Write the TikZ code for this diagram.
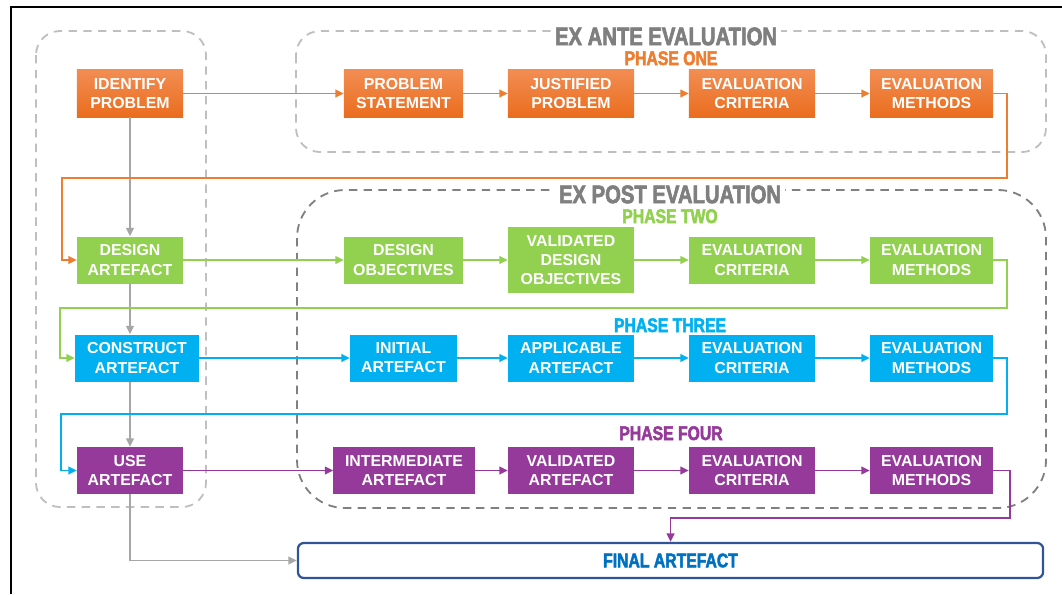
\documentclass[tikz,border=0pt]{standalone}
\usepackage{fontspec}
\setmainfont{Liberation Sans}
\newfontfamily\narrowfont[FakeStretch=0.8,FakeBold=2.5]{Liberation Sans Bold}
\usetikzlibrary{arrows.meta,calc}

\definecolor{onetop}{HTML}{F28D52}
\definecolor{onebot}{HTML}{EA6D1E}
\definecolor{oneline}{HTML}{ED7D31}
\definecolor{twocol}{HTML}{92D050}
\definecolor{threecol}{HTML}{00B0F0}
\definecolor{fourcol}{HTML}{953A9B}
\definecolor{linkgray}{HTML}{A6A6A6}
\definecolor{headgray}{HTML}{7F7F7F}
\definecolor{lightdash}{HTML}{BFBFBF}
\definecolor{darkdash}{HTML}{808080}
\definecolor{finaldraw}{HTML}{2F5597}
\definecolor{finaltext}{HTML}{0070C0}

\tikzstyle{phasebox} = [minimum height=1.175cm, inner sep=0pt, align=center, text=white, font=\fontsize{11.3}{13.6}\selectfont\bfseries]
\tikzstyle{onebox} = [phasebox, top color=onetop, bottom color=onebot]
\tikzstyle{twobox} = [phasebox, fill=twocol]
\tikzstyle{threebox} = [phasebox, fill=threecol]
\tikzstyle{fourbox} = [phasebox, fill=fourcol]
\tikzstyle{link} = [line width=1.3pt, -{Triangle[length=6pt,width=5.5pt]}]
\tikzstyle{zone} = [line width=1.3pt, dash pattern=on 6pt off 4.5pt]
\tikzstyle{heading} = [font=\fontsize{18}{18}\narrowfont, text=headgray, fill=white, inner xsep=3pt, inner ysep=1pt, text height=13pt, text depth=0pt]
\tikzstyle{phase} = [font=\fontsize{14}{14}\narrowfont, inner sep=0pt, text height=10pt, text depth=0pt]

\begin{document}
\begin{tikzpicture}[x=0.025cm, y=-0.025cm]
    \useasboundingbox (0,0) rectangle (1062,594);
    \draw[line width=1.4pt] (11,594) -- (11,7) -- (1062,7);

    \draw[zone, lightdash, rounded corners=0.6cm] (36,31) rectangle (206,507);
    \draw[zone, lightdash, rounded corners=0.6cm] (296,31) rectangle (1046,152);
    \draw[zone, darkdash, rounded corners=1.2cm] (297,190) rectangle (1046,508);

    \node[heading] at (666,36) {EX ANTE EVALUATION};
    \node[heading] at (670,194) {EX POST EVALUATION};
    \node[phase, text=oneline] at (671,58) {PHASE ONE};
    \node[phase, text=twocol] at (670,216) {PHASE TWO};
    \node[phase, text=threecol] at (670,325) {PHASE THREE};
    \node[phase, text=fourcol] at (671,433) {PHASE FOUR};

    \node[onebox, minimum width=2.65cm] (ip) at (130,93.5) {IDENTIFY\\PROBLEM};
    \node[onebox, minimum width=2.975cm] (ps) at (403.5,93.5) {PROBLEM\\STATEMENT};
    \node[onebox, minimum width=3.15cm] (jp) at (571,93.5) {JUSTIFIED\\PROBLEM};
    \node[onebox, minimum width=3.15cm] (ec1) at (752,93.5) {EVALUATION\\CRITERIA};
    \node[onebox, minimum width=3.075cm] (em1) at (931.5,93.5) {EVALUATION\\METHODS};

    \node[twobox, minimum width=2.65cm] (da) at (130,260) {DESIGN\\ARTEFACT};
    \node[twobox, minimum width=2.975cm] (do) at (403.5,260) {DESIGN\\OBJECTIVES};
    \node[twobox, minimum width=3.15cm, minimum height=1.65cm] (vdo) at (571,260) {VALIDATED\\DESIGN\\OBJECTIVES};
    \node[twobox, minimum width=3.15cm] (ec2) at (752,260) {EVALUATION\\CRITERIA};
    \node[twobox, minimum width=3.075cm] (em2) at (931.5,260) {EVALUATION\\METHODS};

    \node[threebox, minimum width=3.1cm] (ca) at (137,358) {CONSTRUCT\\ARTEFACT};
    \node[threebox, minimum width=2.675cm] (ia) at (403.5,358) {INITIAL\\ARTEFACT};
    \node[threebox, minimum width=3.15cm] (aa) at (571,358) {APPLICABLE\\ARTEFACT};
    \node[threebox, minimum width=3.15cm] (ec3) at (752,358) {EVALUATION\\CRITERIA};
    \node[threebox, minimum width=3.075cm] (em3) at (931.5,358) {EVALUATION\\METHODS};

    \node[fourbox, minimum width=2.65cm] (ua) at (130,470.5) {USE\\ARTEFACT};
    \node[fourbox, minimum width=3.525cm] (ma) at (404,470.5) {INTERMEDIATE\\ARTEFACT};
    \node[fourbox, minimum width=3.15cm] (va) at (571,470.5) {VALIDATED\\ARTEFACT};
    \node[fourbox, minimum width=3.15cm] (ec4) at (752,470.5) {EVALUATION\\CRITERIA};
    \node[fourbox, minimum width=3.075cm] (em4) at (931.5,470.5) {EVALUATION\\METHODS};

    \node[draw=finaldraw, line width=1.6pt, rounded corners=0.15cm, minimum width=18.625cm, minimum height=0.875cm, text=finaltext, font=\fontsize{14}{14}\narrowfont] (fin) at (670.5,560.5) {FINAL ARTEFACT};

    \draw[link, linkgray] (ip.south) -- (da.north);
    \draw[link, linkgray] (da.south) -- (da.south |- ca.north);
    \draw[link, linkgray] (ua.north |- ca.south) -- (ua.north);
    \draw[link, linkgray] (ua.south) |- (fin.west);

    \draw[link, oneline] (ip) -- (ps);
    \draw[link, oneline] (ps) -- (jp);
    \draw[link, oneline] (jp) -- (ec1);
    \draw[link, oneline] (ec1) -- (em1);
    \draw[link, oneline] (em1.east) -- ++(14,0) -- ++(0,84.5) -| ($(da.west)+(-15,0)$) -- (da.west);

    \draw[link, twocol] (da) -- (do);
    \draw[link, twocol] (do) -- (vdo);
    \draw[link, twocol] (vdo) -- (ec2);
    \draw[link, twocol] (ec2) -- (em2);
    \draw[link, twocol] (em2.east) -- ++(14,0) -- ++(0,48) -| ($(ca.west)+(-15,0)$) -- (ca.west);

    \draw[link, threecol] (ca) -- (ia);
    \draw[link, threecol] (ia) -- (aa);
    \draw[link, threecol] (aa) -- (ec3);
    \draw[link, threecol] (ec3) -- (em3);
    \draw[link, threecol] (em3.east) -- ++(14,0) -- ++(0,56) -| ($(ua.west)+(-16,0)$) -- (ua.west);

    \draw[link, fourcol] (ua) -- (ma);
    \draw[link, fourcol] (ma) -- (va);
    \draw[link, fourcol] (va) -- (ec4);
    \draw[link, fourcol] (ec4) -- (em4);
    \draw[link, fourcol] (em4.east) -- ++(17,0) -- ++(0,47.5) -| (fin.north);
\end{tikzpicture}
\end{document}
